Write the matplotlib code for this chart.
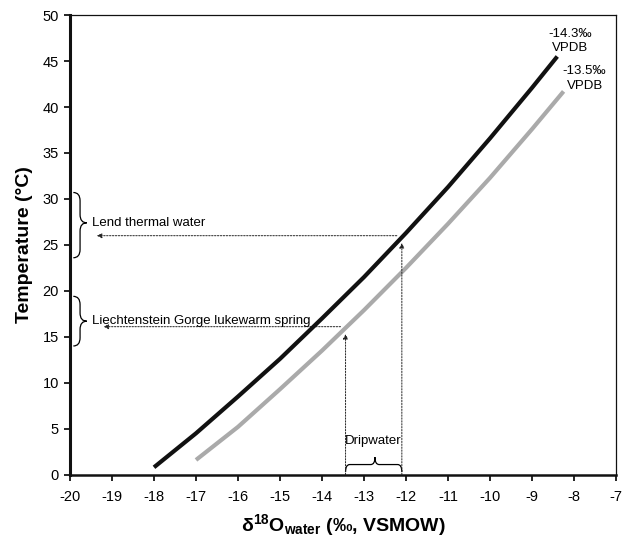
import numpy as np
import matplotlib
matplotlib.use('Agg')
import matplotlib.pyplot as plt
from matplotlib.path import Path
from matplotlib.patches import PathPatch

plt.rcParams['font.family'] = ['Liberation Sans', 'DejaVu Sans']
plt.rcParams['mathtext.fontset'] = 'custom'
plt.rcParams['mathtext.rm'] = 'Liberation Sans'
plt.rcParams['mathtext.bf'] = 'Liberation Sans:bold'
plt.rcParams['mathtext.it'] = 'Liberation Sans:italic'

# Curve values (d18O water vs temperature)
d18o_black = [-18.0, -17.0, -16.0, -15.0, -14.0, -13.0, -12.0, -11.0, -10.0, -9.0, -8.4]
temp_black = [0.8, 4.5, 8.5, 12.6, 17.0, 21.5, 26.3, 31.3, 36.6, 42.1, 45.5]
d18o_gray = [-17.0, -16.0, -15.0, -14.0, -13.0, -12.0, -11.0, -10.0, -9.0, -8.25]
temp_gray = [1.6, 5.2, 9.3, 13.5, 17.9, 22.5, 27.3, 32.3, 37.6, 41.7]

label_black = '-14.3‰\nVPDB'
label_gray = '-13.5‰\nVPDB'

# Water sources: name, temperature, d18O of dripwater limit, brace range and tip
sources = ['Lend thermal water', 'Liechtenstein Gorge lukewarm spring']
source_temp = [26.0, 16.1]
source_d18o = [-12.1, -13.44]
arrow_end = [-19.36, -19.2]
brace_lo = [23.6, 14.0]
brace_hi = [30.7, 19.4]
brace_tip = [27.4, 16.7]

fig = plt.figure(figsize=(6.22, 5.4), dpi=100)
ax = fig.add_axes([0.1125, 0.121, 0.878, 0.851])

ax.plot(d18o_gray, temp_gray, color='#aaaaaa', lw=3.0, solid_capstyle='butt', zorder=3)
ax.plot(d18o_black, temp_black, color='#111111', lw=3.0, solid_capstyle='butt', zorder=4)

ax.text(-8.1, 47.2, label_black, ha='center', va='center', fontsize=9.5, linespacing=1.25)
ax.text(-7.75, 43.1, label_gray, ha='center', va='center', fontsize=9.5, linespacing=1.25)


def vbrace(ax, x, w, y0, y1, ym, r=0.9):
    # curly brace opening to the right, drawn in data coordinates
    xm = x + w / 2
    verts = [(x, y1), (xm, y1), (xm, y1 - r),
             (xm, ym + r),
             (xm, ym), (x + w, ym),
             (xm, ym), (xm, ym - r),
             (xm, y0 + r),
             (xm, y0), (x, y0)]
    codes = [Path.MOVETO, Path.CURVE3, Path.CURVE3,
             Path.LINETO,
             Path.CURVE3, Path.CURVE3,
             Path.CURVE3, Path.CURVE3,
             Path.LINETO,
             Path.CURVE3, Path.CURVE3]
    ax.add_patch(PathPatch(Path(verts, codes), fc='none', ec='black', lw=0.9, clip_on=False))


def hbrace(ax, x0, x1, y, h, xm, r=0.1):
    ym = y + h / 2
    verts = [(x0, y), (x0, ym), (x0 + r, ym),
             (xm - r, ym),
             (xm, ym), (xm, y + h),
             (xm, ym), (xm + r, ym),
             (x1 - r, ym),
             (x1, ym), (x1, y)]
    codes = [Path.MOVETO, Path.CURVE3, Path.CURVE3,
             Path.LINETO,
             Path.CURVE3, Path.CURVE3,
             Path.CURVE3, Path.CURVE3,
             Path.LINETO,
             Path.CURVE3, Path.CURVE3]
    ax.add_patch(PathPatch(Path(verts, codes), fc='none', ec='black', lw=0.9))


arrow = dict(arrowstyle='-|>', lw=0.7, ls=(0, (1.5, 1.5)), color='#222222',
             mutation_scale=7, shrinkA=0, shrinkB=0)

for name, t, x, xe, lo, hi, tip in zip(sources, source_temp, source_d18o, arrow_end,
                                       brace_lo, brace_hi, brace_tip):
    # vertical arrow from the axis up to the curve
    ax.annotate('', xy=(x, t - 0.8), xytext=(x, 0), arrowprops=arrow)
    # horizontal arrow across to the temperature axis
    ax.annotate('', xy=(xe, t), xytext=(x - 0.12, t), arrowprops=arrow)
    vbrace(ax, -19.92, 0.32, lo, hi, tip)
    ax.text(-19.47, tip, name, ha='left', va='center', fontsize=9.5)

hbrace(ax, source_d18o[1], source_d18o[0], 0.3, 1.6, -12.74)
ax.text(-12.78, 3.7, 'Dripwater', ha='center', va='center', fontsize=9.5)

ax.set_xlim(-20, -7)
ax.set_ylim(0, 50)
ax.set_xticks(np.arange(-20, -6, 1))
ax.set_yticks(np.arange(0, 51, 5))
ax.set_xticklabels([str(v) for v in range(-20, -6)])
ax.tick_params(direction='out', length=4, width=1.2, labelsize=10.5, pad=4)
ax.tick_params(axis='x', pad=7)

ax.spines['left'].set_linewidth(2.2)
ax.spines['bottom'].set_linewidth(1.8)
ax.spines['top'].set_linewidth(0.9)
ax.spines['right'].set_linewidth(0.9)
for s in ax.spines.values():
    s.set_color('#111111')

ax.set_ylabel('Temperature (°C)', fontsize=14, fontweight='bold', labelpad=7)
ax.set_xlabel(r'$\mathbf{\delta^{18}O_{water}}$ (‰, VSMOW)', fontsize=14,
              fontweight='bold', labelpad=6)

fig.savefig('out.png', dpi=100)
